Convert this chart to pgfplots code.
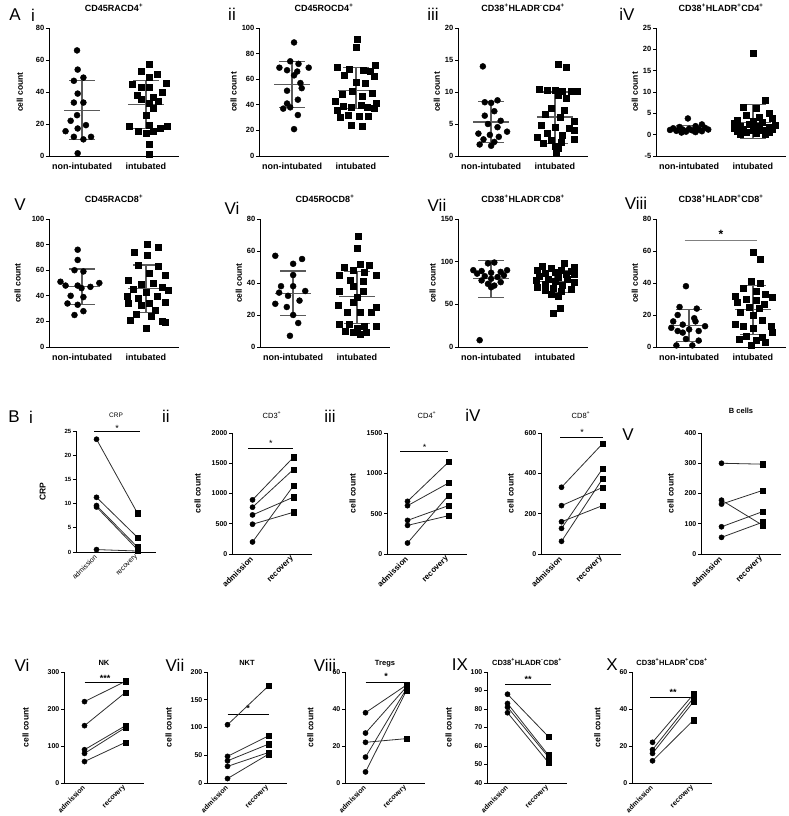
\documentclass[border=0pt]{standalone}
\usepackage{fontspec}
\setmainfont{Liberation Sans}
\usepackage{pgfplots}
\pgfplotsset{compat=1.18}
\definecolor{msdc}{HTML}{5A5A5A}
\definecolor{pairc}{HTML}{2E2E2E}
\pgfplotsset{
  base/.style={
    scale only axis, clip=false,
    axis lines*=left,
    axis line style={line width=1pt, black},
    tick align=outside,
    major tick length=3pt,
    ytick style={line width=0.8pt, black},
    xtick style={draw=none},
    /pgf/number format/assume math mode=true,
    /pgf/number format/1000 sep={},
    yticklabel style={font=\fontsize{7.5}{8}\selectfont\bfseries, inner sep=1.5pt},
    ylabel style={font=\fontsize{8.5}{9}\selectfont\bfseries},
    title style={font=\fontsize{9}{9}\selectfont\bfseries, inner sep=0pt, anchor=base, at={(0.5,1)}},
  },
  pA/.style={base, width=130pt, height=128pt, xmin=0.48, xmax=2.52, xtick={1,2},
    xticklabels={non-intubated,intubated},
    xticklabel style={font=\fontsize{9}{9}\selectfont\bfseries},
    ylabel={cell count}, title style={yshift=10.5pt}},
  pB/.style={base, width=80pt, xmin=0.5, xmax=2.45, xtick={1,2},
    xticklabels={admission,recovery},
    xticklabel style={font=\fontsize{8}{9}\selectfont\bfseries, rotate=45, anchor=east, inner sep=1pt},
    ylabel={cell count}, ylabel shift=6pt,
    yticklabel style={font=\fontsize{7}{7}\selectfont\bfseries}},
  pBb/.style={pB, height=111pt, ylabel shift=14pt,
    title style={font=\fontsize{7.5}{8}\selectfont\bfseries, yshift=1pt},
    xticklabel style={font=\fontsize{7}{8}\selectfont\bfseries}},
  ni/.style={only marks, mark=*, mark size=3pt, black},
  it/.style={only marks, mark=square*, mark size=3pt, black},
  msd/.style={msdc, line width=1.3pt, no marks},
  pl/.style={pairc, line width=0.8pt, no marks},
  ci/.style={only marks, mark=*, mark size=2.6pt, black},
  sq/.style={only marks, mark=square*, mark size=2.6pt, black},
  sig/.style={black, line width=1pt, no marks},
}
\newcommand{\msdA}[3]{%
  \addplot[msd] coordinates {(0.72,#1) (1.28,#1)};
  \addplot[msd] coordinates {(0.8,#2) (1.2,#2)};
  \addplot[msd] coordinates {(0.8,#3) (1.2,#3)};
  \addplot[msd] coordinates {(1,#2) (1,#3)};}
\newcommand{\msdB}[3]{%
  \addplot[msd] coordinates {(1.72,#1) (2.28,#1)};
  \addplot[msd] coordinates {(1.8,#2) (2.2,#2)};
  \addplot[msd] coordinates {(1.8,#3) (2.2,#3)};
  \addplot[msd] coordinates {(2,#2) (2,#3)};}
\newcommand{\pair}[2]{\addplot[pl] coordinates {(1,#1) (2,#2)};}
\newcommand{\plab}[3]{\node[font=\fontsize{17}{17}\selectfont, anchor=center] at (#1pt,-#2pt) {#3};}
\begin{document}
\begin{tikzpicture}
\useasboundingbox (0,0) rectangle (789pt,-816pt);
% ---------------- A i
\begin{axis}[pA, at={(49pt,-156pt)}, anchor=south west, ymin=0, ymax=80, ytick={0,20,40,60,80},
  ylabel shift=8pt, title={CD45RACD4\textsuperscript{+}}]
\addplot[ni] coordinates {(0.92,66) (0.93,54) (1.02,49) (0.87,47) (0.93,39) (0.87,33.4) (1.02,33.4) (0.92,25.5) (0.82,22) (1.06,19.3) (0.93,17.2) (0.74,15.5) (0.87,12) (1.14,12) (1.02,10.4) (0.93,1.7)};
\addplot[it] coordinates {(2.06,57.6) (1.92,53) (2.18,51) (2.06,49) (1.79,45) (2.32,45.6) (1.92,43) (2.06,42.7) (2.25,40) (1.86,38) (2.12,37) (1.93,35.2) (2.19,34.4) (2.06,32.7) (2.11,29.6) (2.0,25.5) (1.74,18.7) (2.34,18.7) (2.06,19.3) (2.22,17.2) (1.88,15.8) (2.0,14) (2.12,15.8) (2.06,7.3) (2.06,1.2)};
\msdA{28.6}{10.2}{47}
\msdB{32.1}{17}{47}
\end{axis}
% ---------------- A ii
\begin{axis}[pA, at={(259pt,-156pt)}, anchor=south west, ymin=0, ymax=100, ytick={0,20,40,60,80,100},
  title={CD45ROCD4\textsuperscript{+}}]
\addplot[ni] coordinates {(1.03,88.7) (0.97,74) (1.1,72) (0.8,69) (1.26,69) (0.92,67) (1.08,66) (1.03,63) (1.13,57) (1.15,53) (0.92,51) (1.09,44) (0.92,41) (0.97,38) (0.86,37) (1.09,32) (1.03,21)};
\addplot[it] coordinates {(2.02,91) (2.0,85) (2.3,71) (1.7,69) (1.9,68) (2.12,67) (2.22,66) (1.82,63) (2.28,62) (2.0,58) (2.15,57) (1.95,51) (2.25,49) (1.78,48) (2.1,47) (1.68,43) (2.32,41) (2.08,40) (1.8,39) (1.92,38) (2.18,38) (2.28,37) (1.7,36) (1.88,32) (2.05,31) (2.2,31) (1.75,30) (1.92,24) (2.1,23)};
\msdA{56}{38}{74}
\msdB{51}{37}{69}
\end{axis}
% ---------------- A iii
\begin{axis}[pA, at={(458pt,-156pt)}, anchor=south west, ymin=0, ymax=20, ytick={0,5,10,15,20},
  title={CD38\textsuperscript{+}HLADR\textsuperscript{-}CD4\textsuperscript{+}}]
\addplot[ni] coordinates {(0.87,14) (1.1,8.7) (0.9,8.4) (1.0,8.3) (1.05,7) (0.9,6.3) (1.15,5.5) (0.95,5) (1.1,4.5) (1.25,3.8) (0.8,3.5) (0.98,3.3) (1.12,3) (0.88,2.6) (1.05,2.2) (0.82,1.8) (1.0,1.6)};
\addplot[it] coordinates {(2.05,14.4) (2.18,13.8) (1.75,10.4) (1.88,10.3) (2.0,10.3) (2.25,10.2) (2.35,10.2) (2.12,10.2) (2.05,9.5) (2.18,9) (1.95,7.5) (2.15,7.2) (1.85,6.6) (2.08,6) (2.3,5.5) (1.78,4.8) (2.0,4.5) (2.22,4.3) (2.3,4) (1.88,3.5) (2.12,3.2) (1.72,3) (2.3,2.7) (1.95,2.5) (2.1,2.2) (1.82,2) (2.0,1.5) (2.05,1.2) (2.02,0.5)};
\msdA{5.3}{2.1}{8.5}
\msdB{6.1}{2.0}{10}
\end{axis}
% ---------------- A iv
\begin{axis}[pA, at={(656pt,-156pt)}, anchor=south west, ymin=-5, ymax=25, ytick={-5,0,5,10,15,20,25},
  title={CD38\textsuperscript{+}HLADR\textsuperscript{+}CD4\textsuperscript{+}}]
\addplot[ni] coordinates {(0.98,3.8) (1.2,2.4) (1.1,2.0) (0.85,1.8) (1.25,1.6) (0.75,1.5) (1.0,1.4) (1.15,1.3) (0.9,1.2) (1.3,1.2) (0.7,1.1) (1.05,1.0) (0.8,0.9) (1.2,0.8) (0.95,0.7) (1.1,0.6) (0.88,0.5)};
\addplot[it] coordinates {(2.0,19) (2.2,8) (1.85,6.5) (2.05,6.3) (2.25,5) (1.9,4.5) (2.1,4) (2.3,3.8) (1.75,3.5) (2.0,3.2) (2.15,3) (1.7,2.8) (1.95,2.5) (2.35,2.3) (1.8,2) (2.1,2) (2.25,1.8) (1.7,1.5) (2.05,1.5) (2.3,1.3) (1.85,1.2) (2.0,1) (2.15,1) (1.75,0.8) (2.25,0.6) (1.9,0.5) (2.05,0.3) (2.2,0.2) (1.8,0.1)};
\msdA{1.3}{0.5}{2.2}
\msdB{2.9}{-0.9}{7}
\end{axis}
% ---------------- A v
\begin{axis}[pA, at={(49pt,-347pt)}, anchor=south west, ymin=0, ymax=100, ytick={0,20,40,60,80,100},
  ylabel shift=6pt, title={CD45RACD8\textsuperscript{+}}]
\addplot[ni] coordinates {(0.93,76) (0.93,68) (0.88,60) (1.02,59) (0.66,51) (1.27,50) (0.74,48) (0.93,48) (1.13,47) (0.99,46) (0.82,40) (1.02,39) (0.77,34) (0.93,33) (1.02,28) (0.88,25)};
\addplot[it] coordinates {(2.02,80) (2.2,78) (1.82,74) (2.02,72) (1.88,64) (2.2,63) (2.05,58) (2.3,56) (1.72,52) (2.12,50) (1.92,49) (2.25,47) (1.8,45) (2.35,44) (2.0,43) (1.7,40) (2.18,40) (1.88,38) (2.3,35) (1.72,34) (2.05,34) (1.92,33) (2.15,29) (1.85,26) (2.08,24) (1.75,21) (2.25,20) (2.3,19) (2.0,15)};
\msdA{47}{33}{61}
\msdB{45.5}{27}{64}
\end{axis}
% ---------------- A vi
\begin{axis}[pA, at={(260pt,-347pt)}, anchor=south west, ymin=0, ymax=80, ytick={0,20,40,60,80},
  title={CD45ROCD8\textsuperscript{+}}]
\addplot[ni] coordinates {(0.72,57) (1.14,55) (1.0,52) (1.0,45) (0.81,38) (1.0,38) (1.19,35) (0.78,34) (0.92,32) (1.1,29) (0.72,27) (0.9,25) (1.0,20) (1.08,15) (0.95,7)};
\addplot[it] coordinates {(2.02,69) (2.0,62) (2.05,52) (2.2,51) (1.8,50) (1.95,48) (2.12,47) (1.72,45) (2.3,45) (1.9,42) (2.1,41) (1.95,38) (2.1,35) (1.72,35) (2.0,31) (1.95,28) (1.7,26) (2.3,25) (1.85,22) (2.05,22) (2.22,22) (1.72,14) (1.88,14) (2.3,13) (2.12,13) (2.0,12) (1.82,10) (2.15,9) (1.95,9) (2.05,8)};
\msdA{33.5}{19.5}{47.5}
\msdB{31.5}{14.5}{47}
\end{axis}
% ---------------- A vii
\begin{axis}[pA, at={(458pt,-347pt)}, anchor=south west, ymin=0, ymax=150, ytick={0,50,100,150},
  title={CD38\textsuperscript{+}HLADR\textsuperscript{-}CD8\textsuperscript{+}}]
\addplot[ni] coordinates {(1.05,99) (0.95,98) (0.72,90) (1.25,90) (0.85,89) (1.15,88) (1.0,87) (0.78,86) (1.2,84) (0.9,83) (1.1,82) (1.0,80) (0.85,78) (1.15,76) (0.95,74) (1.05,72) (1.0,70) (0.82,8)};
\addplot[it] coordinates {(2.15,98) (1.8,95) (2.3,93) (1.95,92) (2.1,90) (1.72,90) (2.25,89) (2.0,88) (1.85,87) (2.18,85) (2.3,85) (1.75,83) (2.05,82) (1.9,80) (2.2,79) (1.7,78) (2.0,77) (2.3,76) (1.85,74) (2.12,72) (1.72,70) (1.98,69) (2.25,68) (1.85,66) (2.1,65) (1.95,62) (2.05,60) (2.08,45) (1.98,40)};
\msdA{80}{58}{101}
\msdB{77}{64}{90}
\end{axis}
% ---------------- A viii
\begin{axis}[pA, at={(656pt,-347pt)}, anchor=south west, ymin=0, ymax=80, ytick={0,20,40,60,80},
  title={CD38\textsuperscript{+}HLADR\textsuperscript{+}CD8\textsuperscript{+}}]
\addplot[gray, line width=1.2pt, no marks] coordinates {(0.93,66.5) (2.06,66.5)};
\node[font=\fontsize{12}{12}\selectfont\bfseries] at (axis cs:1.5,70.5) {*};
\addplot[ni] coordinates {(0.95,38) (0.85,25) (1.12,24) (0.82,20) (1.08,18) (0.75,16) (1.1,16) (0.9,14) (1.25,13) (0.72,12) (1.0,11) (0.82,10) (1.15,10) (0.9,9) (0.95,5) (1.15,4) (0.8,1) (1.05,1)};
\addplot[it] coordinates {(2.0,59) (2.12,55) (1.98,41) (2.12,40) (1.85,37) (2.05,35) (2.2,33) (1.72,32) (2.3,31) (1.9,30) (2.05,29) (1.75,28) (2.18,27) (1.95,25) (2.1,24) (1.8,22) (2.0,20) (2.15,17) (1.72,14) (2.28,13) (1.85,13) (2.0,12) (2.3,9) (1.9,7) (2.15,6) (1.78,5) (2.05,4) (2.2,3) (1.98,1)};
\msdA{13.3}{3.5}{23.5}
\msdB{23.5}{8}{38.5}
\end{axis}
% ---------------- B i
\begin{axis}[pB, at={(76pt,-552pt)}, anchor=south west, height=121pt, ymin=0, ymax=25, ytick={0,5,10,15,20,25},
  ylabel={CRP}, ylabel shift=14pt, title={CRP}, title style={font=\fontsize{6.5}{7}\selectfont, yshift=7.5pt},
  xticklabel style={font=\fontsize{7}{8}\selectfont}, yticklabel style={font=\fontsize{6}{7}\selectfont\bfseries}]
\addplot[sig] coordinates {(0.95,24.8) (2.05,24.8)};
\node[font=\fontsize{9}{9}\selectfont] at (axis cs:1.5,25.6) {*};
\pair{23.3}{8}\pair{11.3}{3}\pair{9.6}{1}\pair{9.3}{0.5}\pair{0.5}{0.2}
\addplot[ci] coordinates {(1,23.3) (1,11.3) (1,9.6) (1,9.3) (1,0.5)};
\addplot[sq] coordinates {(2,8) (2,3) (2,1) (2,0.5) (2,0.2)};
\end{axis}
% ---------------- B ii
\begin{axis}[pB, at={(232pt,-554pt)}, anchor=south west, height=121pt, ymin=0, ymax=2000, ytick={0,500,1000,1500,2000},
  title={CD3\textsuperscript{+}}, title style={font=\fontsize{7.5}{8}\selectfont, yshift=9pt}]
\addplot[sig] coordinates {(0.89,1750) (1.99,1750)};
\node[font=\fontsize{9}{9}\selectfont] at (axis cs:1.45,1830) {*};
\pair{895}{1600}\pair{773}{1400}\pair{646}{940}\pair{492}{690}\pair{199}{1130}
\addplot[ci] coordinates {(1,895) (1,773) (1,646) (1,492) (1,199)};
\addplot[sq] coordinates {(2,1600) (2,1400) (2,1130) (2,940) (2,690)};
\end{axis}
% ---------------- B iii
\begin{axis}[pB, at={(387pt,-554pt)}, anchor=south west, height=121pt, ymin=0, ymax=1500, ytick={0,500,1000,1500},
  title={CD4\textsuperscript{+}}, title style={font=\fontsize{7.5}{8}\selectfont, yshift=9pt}]
\addplot[sig] coordinates {(0.82,1265) (1.99,1265)};
\node[font=\fontsize{9}{9}\selectfont] at (axis cs:1.42,1325) {*};
\pair{653}{1140}\pair{599}{880}\pair{417}{600}\pair{355}{475}\pair{136}{727}
\addplot[ci] coordinates {(1,653) (1,599) (1,417) (1,355) (1,136)};
\addplot[sq] coordinates {(2,1140) (2,880) (2,727) (2,600) (2,475)};
\end{axis}
% ---------------- B iv
\begin{axis}[pB, at={(541pt,-554pt)}, anchor=south west, height=121pt, ymin=0, ymax=600, ytick={0,200,400,600},
  title={CD8\textsuperscript{+}}, title style={font=\fontsize{7.5}{8}\selectfont, yshift=9pt}]
\addplot[sig] coordinates {(0.97,580) (2.02,580)};
\node[font=\fontsize{9}{9}\selectfont] at (axis cs:1.5,605) {*};
\pair{331}{547}\pair{240}{330}\pair{160}{240}\pair{127}{423}\pair{63}{373}
\addplot[ci] coordinates {(1,331) (1,240) (1,160) (1,127) (1,63)};
\addplot[sq] coordinates {(2,547) (2,423) (2,373) (2,330) (2,240)};
\end{axis}
% ---------------- B v
\begin{axis}[pB, at={(701pt,-554pt)}, anchor=south west, height=121pt, ymin=0, ymax=400, ytick={0,100,200,300,400},
  title={B cells}, title style={font=\fontsize{7.5}{8}\selectfont\bfseries, yshift=14pt}]
\pair{300}{297}\pair{178}{95}\pair{165}{210}\pair{90}{140}\pair{55}{105}
\addplot[ci] coordinates {(1,300) (1,178) (1,165) (1,90) (1,55)};
\addplot[sq] coordinates {(2,297) (2,210) (2,140) (2,105) (2,95)};
\end{axis}
% ---------------- B vi
\begin{axis}[pBb, at={(64pt,-783pt)}, anchor=south west, ymin=0, ymax=300, ytick={0,100,200,300},
  title={NK}]
\addplot[sig] coordinates {(1,272) (2,272)};
\node[font=\fontsize{9}{9}\selectfont\bfseries] at (axis cs:1.5,283) {***};
\pair{220}{275}\pair{155}{245}\pair{90}{155}\pair{80}{150}\pair{58}{110}
\addplot[ci] coordinates {(1,220) (1,155) (1,90) (1,80) (1,58)};
\addplot[sq] coordinates {(2,275) (2,245) (2,155) (2,150) (2,110)};
\end{axis}
% ---------------- B vii
\begin{axis}[pBb, at={(207pt,-783pt)}, anchor=south west, ymin=0, ymax=200, ytick={0,50,100,150,200},
  title={NKT}]
\addplot[sig] coordinates {(1,124) (2,124)};
\node[font=\fontsize{9}{9}\selectfont\bfseries] at (axis cs:1.5,134) {*};
\pair{105}{175}\pair{48}{85}\pair{40}{70}\pair{30}{55}\pair{8}{52}
\addplot[ci] coordinates {(1,105) (1,48) (1,40) (1,30) (1,8)};
\addplot[sq] coordinates {(2,175) (2,85) (2,70) (2,55) (2,52)};
\end{axis}
% ---------------- B viii
\begin{axis}[pBb, at={(345pt,-783pt)}, anchor=south west, ymin=0, ymax=60, ytick={0,20,40,60},
  title={Tregs}]
\addplot[sig] coordinates {(1,54.5) (2,54.5)};
\node[font=\fontsize{9}{9}\selectfont\bfseries] at (axis cs:1.5,57.5) {*};
\pair{38}{53}\pair{27}{52}\pair{22}{24}\pair{14}{51}\pair{6}{50}
\addplot[ci] coordinates {(1,38) (1,27) (1,22) (1,14) (1,6)};
\addplot[sq] coordinates {(2,53) (2,52) (2,51) (2,50) (2,24)};
\end{axis}
% ---------------- B ix
\begin{axis}[pBb, at={(487pt,-783pt)}, anchor=south west, ymin=40, ymax=100, ytick={40,50,60,70,80,90,100},
  title={CD38\textsuperscript{+}HLADR\textsuperscript{-}CD8\textsuperscript{+}}]
\addplot[sig] coordinates {(0.95,93) (2.05,93)};
\node[font=\fontsize{9}{9}\selectfont\bfseries] at (axis cs:1.5,96) {**};
\pair{88}{65}\pair{83}{55}\pair{81}{54}\pair{78}{51}
\addplot[ci] coordinates {(1,88) (1,83) (1,81) (1,78)};
\addplot[sq] coordinates {(2,65) (2,55) (2,54) (2,51)};
\end{axis}
% ---------------- B x
\begin{axis}[pBb, at={(632pt,-783pt)}, anchor=south west, ymin=0, ymax=60, ytick={0,20,40,60},
  title={CD38\textsuperscript{+}HLADR\textsuperscript{+}CD8\textsuperscript{+}}]
\addplot[sig] coordinates {(0.95,46) (2.05,46)};
\node[font=\fontsize{9}{9}\selectfont\bfseries] at (axis cs:1.5,49) {**};
\pair{22}{48}\pair{18}{46}\pair{16}{44}\pair{12}{34}
\addplot[ci] coordinates {(1,22) (1,18) (1,16) (1,12)};
\addplot[sq] coordinates {(2,48) (2,46) (2,44) (2,34)};
\end{axis}
% ---------------- panel labels
\plab{15}{15}{A}\plab{33}{15}{i}
\plab{232}{14}{ii}\plab{433}{14}{iii}\plab{627}{14}{iV}
\plab{20}{205}{V}\plab{232}{208}{Vi}\plab{437}{205}{Vii}\plab{636}{203}{Viii}
\plab{14}{417}{B}\plab{31}{417}{i}
\plab{166}{416}{ii}\plab{330}{416}{iii}\plab{473}{415}{iV}\plab{628}{435}{V}
\plab{22}{665}{Vi}\plab{175}{665}{Vii}\plab{325}{665}{Viii}\plab{460}{665}{IX}\plab{612}{665}{X}
\end{tikzpicture}
\end{document}
